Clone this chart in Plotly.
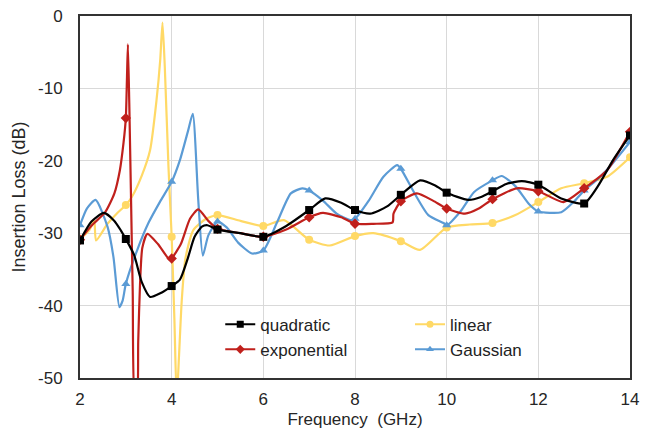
import plotly.graph_objects as go

# ---- curve data ----
quad_f = [2.0, 2.25, 2.52, 2.75, 2.89, 3.0, 3.18, 3.35, 3.53, 3.75, 4.0, 4.18, 4.35, 4.5, 4.66, 4.78, 5.0, 5.5, 6.0,
          6.5, 7.0, 7.35, 7.7, 8.0, 8.33, 8.7, 9.0, 9.42, 9.75, 10.0, 10.47, 10.75, 11.0, 11.3, 11.64, 12.0, 12.5,
          13.0, 13.3, 13.63, 14.0]
quad_v = [-31.0, -28.4, -27.2, -28.3, -29.6, -30.8, -33.0, -36.8, -38.8, -38.3, -37.3, -36.4, -33.5, -30.5, -29.1,
          -28.9, -29.5, -30.0, -30.5, -29.0, -26.8, -25.2, -25.8, -26.8, -27.3, -26.3, -24.7, -22.7, -23.4, -24.4,
          -25.4, -25.0, -24.2, -23.2, -22.8, -23.3, -25.2, -25.9, -23.5, -19.9, -16.5]

expo_f = [2.0, 2.23, 2.55, 2.75, 2.87, 2.95, 3.0, 3.025, 3.045, 3.075, 3.11, 3.15, 3.2, 3.24, 3.27, 3.31, 3.36,
          3.47, 3.7, 3.96, 4.0, 4.2, 4.4, 4.58, 4.8, 5.0, 5.5, 6.0, 6.5, 7.0, 7.3, 7.7, 8.0, 8.4, 8.82, 8.84, 9.0,
          9.35, 9.7, 10.0, 10.4, 10.7, 11.0, 11.53, 12.0, 12.55, 13.0, 13.5, 14.0]
expo_v = [-30.9, -29.1, -27.1, -24.5, -21.3, -17.5, -14.1, -8.5, -3.9, -12.0, -24.0, -38.0, -53.0, -53.0, -45.0,
          -37.0, -32.0, -30.1, -31.5, -33.7, -33.5, -31.5, -28.0, -26.7, -28.3, -29.4, -30.0, -30.5, -29.5, -27.8,
          -27.2, -27.8, -28.7, -28.7, -28.5, -27.3, -25.6, -24.5, -25.5, -26.6, -27.3, -26.6, -25.3, -23.8, -24.2,
          -25.7, -23.8, -21.3, -16.0]

lin_f = [2.0, 2.2, 2.31, 2.35, 2.6, 2.8, 3.0, 3.13, 3.35, 3.53, 3.67, 3.75, 3.8, 3.85, 3.93, 4.0, 4.06, 4.11, 4.16,
         4.22, 4.3, 4.47, 4.75, 5.0, 5.5, 6.0, 6.45, 7.0, 7.45, 8.0, 8.4, 9.0, 9.42, 10.0, 10.5, 11.0, 11.5, 12.0,
         12.5, 13.0, 13.5, 14.0]
lin_v = [-30.8, -29.6, -28.2, -31.0, -28.7, -27.3, -26.1, -25.0, -22.0, -18.5, -11.6, -6.1, -0.9, -7.0, -20.8,
         -30.5, -42.0, -53.0, -47.0, -39.3, -33.5, -29.6, -28.0, -27.5, -28.3, -29.0, -28.2, -30.9, -31.7, -30.4,
         -30.0, -31.1, -32.3, -29.2, -28.8, -28.6, -27.5, -25.7, -23.8, -23.1, -22.2, -19.5]

gaus_f = [2.0, 2.15, 2.34, 2.6, 2.73, 2.86, 2.93, 3.0, 3.25, 3.5, 3.75, 4.0, 4.18, 4.36, 4.46, 4.58, 4.68, 4.8,
          5.0, 5.2, 5.45, 5.75, 6.0, 6.3, 6.6, 6.85, 7.0, 7.3, 7.6, 7.9, 8.0, 8.3, 8.62, 8.92, 9.0, 9.3, 9.6, 9.93,
          10.0, 10.3, 10.6, 11.0, 11.2, 11.5, 11.8, 12.0, 12.5, 12.8, 13.0, 13.3, 13.6, 14.0]
gaus_v = [-28.9, -26.6, -25.4, -29.1, -33.3, -40.2, -39.3, -37.0, -32.3, -28.5, -25.6, -22.9, -19.9, -15.8, -13.5,
          -25.4, -33.1, -30.3, -28.4, -29.2, -31.3, -32.8, -32.4, -28.5, -24.5, -23.8, -24.1, -25.5, -27.3, -28.2,
          -28.0, -25.5, -22.2, -20.6, -21.1, -24.5, -27.5, -28.6, -28.9, -27.0, -24.3, -22.7, -22.1, -23.5, -26.0,
          -27.0, -27.1, -25.5, -24.1, -22.5, -20.5, -17.4]

# ---- marker data (integer frequencies) ----
mark_f = [2, 3, 4, 5, 6, 7, 8, 9, 10, 11, 12, 13, 14]
quad_m = [-31.0, -30.8, -37.3, -29.5, -30.5, -26.8, -26.8, -24.7, -24.4, -24.2, -23.3, -25.9, -16.5]
expo_m = [-30.9, -14.1, -33.5, -29.4, -30.5, -27.8, -28.7, -25.6, -26.6, -25.3, -24.2, -23.8, -16.0]
lin_m = [-30.8, -26.1, -30.5, -27.5, -29.0, -30.9, -30.4, -31.1, -29.2, -28.6, -25.7, -23.1, -19.5]
gaus_m = [-28.9, -37.0, -22.9, -28.4, -32.4, -24.1, -28.0, -21.1, -28.9, -22.7, -27.0, -24.1, -17.4]

# ---- tick labels ----
x_ticks = [2, 4, 6, 8, 10, 12, 14]
y_ticks = [0, -10, -20, -30, -40, -50]
y_tick_text = ["0", "-10", "-20", "-30", "-40", "-50"]

series = [
    # name, curve f, curve v, marker v, color, symbol, legend, legendrank
    ("linear", lin_f, lin_v, lin_m, "#FFD966", "circle", "legend2", 1),
    ("Gaussian", gaus_f, gaus_v, gaus_m, "#5B9BD5", "triangle-up", "legend2", 2),
    ("exponential", expo_f, expo_v, expo_m, "#C0201C", "diamond", "legend", 2),
    ("quadratic", quad_f, quad_v, quad_m, "#000000", "square", "legend", 1),
]

fig = go.Figure()
for name, cf, cv, mv, col, sym, leg, rank in series:
    fig.add_trace(go.Scatter(x=cf, y=cv, mode="lines", line=dict(color=col, width=2.2, shape="spline", smoothing=0.6),
                             showlegend=False, hoverinfo="skip"))
    fig.add_trace(go.Scatter(x=mark_f, y=mv, mode="markers",
                             marker=dict(color=col, symbol=sym, size=8), showlegend=False))
    fig.add_trace(go.Scatter(x=[None], y=[None], mode="lines+markers", name=name,
                             line=dict(color=col, width=2), marker=dict(color=col, symbol=sym, size=7),
                             legend=leg, legendrank=rank, legendgroup=name))

font = "Liberation Sans, Arial, sans-serif"
legend_common = dict(bgcolor="rgba(0,0,0,0)", font=dict(size=17, color="#222", family=font),
                     traceorder="normal", tracegroupgap=10, itemwidth=30, yanchor="top")
fig.update_layout(
    width=654, height=436,
    margin=dict(l=80, r=24, t=16, b=58, autoexpand=False),
    paper_bgcolor="white", plot_bgcolor="white",
    font=dict(family=font, size=17, color="#262626"),
    xaxis=dict(range=[2, 14], tickvals=x_ticks, showgrid=True, gridcolor="#D9D9D9", gridwidth=1,
               showline=True, linecolor="#333", linewidth=2, mirror=True, zeroline=False, ticks="",
               ticklabelstandoff=5, automargin=False,
               title=dict(text="Frequency  (GHz)", font=dict(size=17), standoff=5), tickfont=dict(size=17)),
    yaxis=dict(range=[-50, 0], tickvals=y_ticks, ticktext=y_tick_text, showgrid=True, gridcolor="#D9D9D9",
               gridwidth=1, showline=True, linecolor="#333", linewidth=2, mirror=True, zeroline=False, ticks="",
               ticklabelstandoff=12, automargin=False,
               title=dict(text="Insertion Loss (dB)", font=dict(size=18), standoff=8), tickfont=dict(size=17)),
    legend=dict(x=0.255, y=0.197, **legend_common),
    legend2=dict(x=0.6, y=0.197, **legend_common),
)

fig.write_html("out.html")
